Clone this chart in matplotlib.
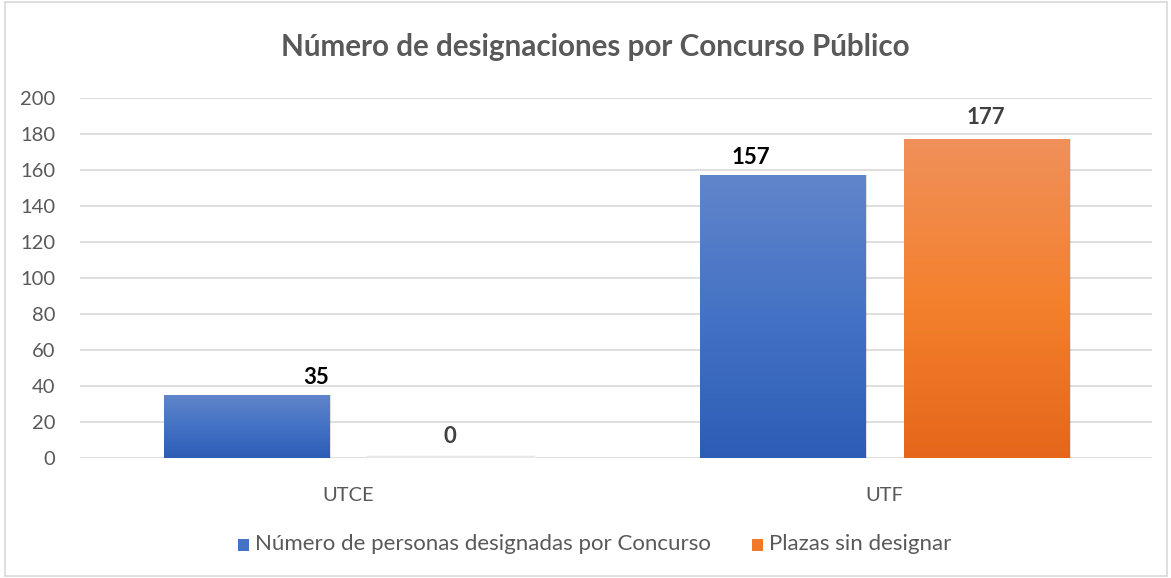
import numpy as np
import matplotlib.pyplot as plt
from matplotlib.patches import Rectangle
from matplotlib.colors import LinearSegmentedColormap

categories = ['UTCE', 'UTF']
series_names = ['Número de personas designadas por Concurso', 'Plazas sin designar']
designadas = [35, 157]
sin_designar = [0, 177]
y_ticks = [0, 20, 40, 60, 80, 100, 120, 140, 160, 180, 200]

plt.rcParams['font.family'] = ['Lato', 'DejaVu Sans']
txt = '#595959'

fig = plt.figure(figsize=(11.71, 5.78), dpi=100)
ax = fig.add_axes([0.0687, 0.208, 0.9155, 0.623])

blue_cm = LinearSegmentedColormap.from_list('b', ['#2C5DB6', '#4472C4', '#6185CB'])
orange_cm = LinearSegmentedColormap.from_list('o', ['#E5661A', '#F4812E', '#F0905A'])

x = np.arange(len(categories))
w = 0.308
off = 0.19


def grad_bar(xc, h, cmap):
    if h <= 0:
        ax.plot([xc - w / 2, xc + w / 2], [0.5, 0.5], color='#e8e8e8', lw=2.5, zorder=2)
        return
    # soft shadow
    ax.add_patch(Rectangle((xc - w / 2 + 0.004, -0.5), w, h + 0.3,
                           color='#000000', alpha=0.12, lw=0, zorder=2))
    r = Rectangle((xc - w / 2, 0), w, h, lw=0, fc='none', zorder=3)
    ax.add_patch(r)
    g = np.linspace(0, 1, 256).reshape(-1, 1)
    im = ax.imshow(g, cmap=cmap, origin='lower', aspect='auto',
                   extent=[xc - w / 2, xc + w / 2, 0, h], zorder=3)
    im.set_clip_path(r)


for i in range(len(categories)):
    grad_bar(x[i] - off, designadas[i], blue_cm)
    grad_bar(x[i] + off, sin_designar[i], orange_cm)

# data labels (placed as in the original)
lab_fs = 16
ax.text(x[0] - off + 0.13, designadas[0] + 4, str(designadas[0]), ha='center', va='bottom',
        fontsize=lab_fs, fontweight='bold', color='black')
ax.text(x[0] + off, sin_designar[0] + 6, str(sin_designar[0]), ha='center', va='bottom',
        fontsize=lab_fs, fontweight='bold', color='#404040')
ax.text(x[1] - off - 0.06, designadas[1] + 4, str(designadas[1]), ha='center', va='bottom',
        fontsize=lab_fs, fontweight='bold', color='black')
ax.text(x[1] + off, sin_designar[1] + 6, str(sin_designar[1]), ha='center', va='bottom',
        fontsize=lab_fs, fontweight='bold', color='#404040')

ax.set_xlim(-0.5, 1.5)
ax.set_ylim(0, 200)
ax.set_yticks(y_ticks)
ax.set_xticks(x)
ax.set_xticklabels(categories)
ax.grid(axis='y', color='#d9d9d9', lw=1.2, zorder=0)
ax.set_axisbelow(True)
for s in ax.spines.values():
    s.set_visible(False)
ax.tick_params(length=0, labelsize=14.5, colors=txt, pad=18)
ax.tick_params(axis='x', pad=21)

fig.text(0.508, 0.918, 'Número de designaciones por Concurso Público', ha='center', va='center',
         fontsize=21.3, fontweight='bold', color=txt)

# legend
lx = [0.203, 0.642]
for j, (name, c) in enumerate(zip(series_names, ['#4472C4', '#F07A2A'])):
    fig.patches.append(Rectangle((lx[j], 0.047), 0.0095, 0.021, transform=fig.transFigure,
                                 fc=c, ec='none'))
    fig.text(lx[j] + 0.015, 0.059, name, ha='left', va='center', fontsize=16, color=txt)

fig.patches.append(Rectangle((0.004, 0.003), 0.993, 0.994, transform=fig.transFigure,
                             fc='none', ec='#d9d9d9', lw=1.2))

fig.savefig('out.png', dpi=100)
